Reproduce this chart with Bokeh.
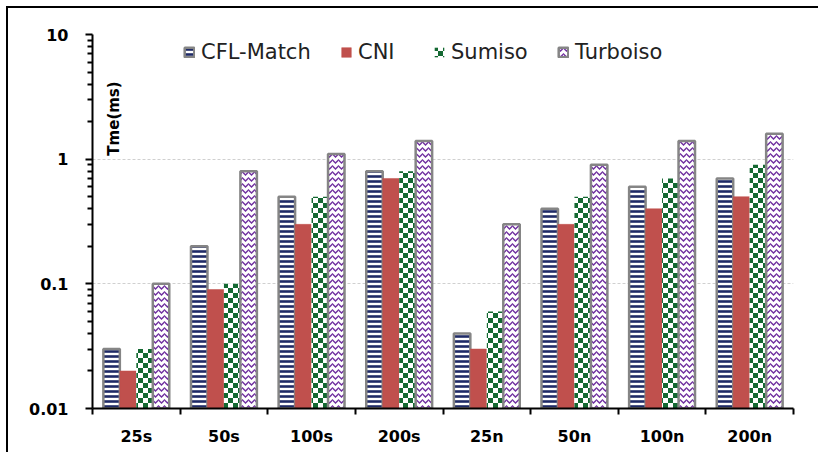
import numpy as np
import zlib, struct, base64
from bokeh.plotting import figure
from bokeh.models import (Range1d, FixedTicker, CustomJSTickFormatter, Legend,
                          LegendItem, Label, ImageURLTexture, ColumnDataSource)
from bokeh.core.properties import value
from bokeh.embed import file_html
from bokeh.resources import INLINE

# ---- data ----
categories = ["25s", "50s", "100s", "200s", "25n", "50n", "100n", "200n"]
cfl_match = [0.03, 0.2, 0.5, 0.8, 0.04, 0.4, 0.6, 0.7]
cni = [0.02, 0.09, 0.3, 0.7, 0.03, 0.3, 0.4, 0.5]
sumiso = [0.03, 0.1, 0.5, 0.8, 0.06, 0.5, 0.7, 0.9]
turboiso = [0.1, 0.8, 1.1, 1.4, 0.3, 0.9, 1.4, 1.6]
series_names = ["CFL-Match", "CNI", "Sumiso", "Turboiso"]
y_ticks = [0.01, 0.1, 1, 10]
y_label = "Tme(ms)"

y_min, y_max = y_ticks[0], y_ticks[-1]
minor_y = [m * t for t in y_ticks[:-1] for m in range(2, 10)]


# ---- checkerboard texture (small PNG built in memory) ----
def checker_png(cell, rgb):
    n = cell * 2
    rows = []
    for yy in range(n):
        row = b"\x00"
        for xx in range(n):
            on = ((xx // cell) + (yy // cell)) % 2 == 0
            row += bytes(rgb + (255,)) if on else bytes((255, 255, 255, 255))
        rows.append(row)
    raw = b"".join(rows)

    def chunk(t, d):
        c = struct.pack(">I", len(d)) + t + d
        return c + struct.pack(">I", zlib.crc32(t + d) & 0xFFFFFFFF)

    data = (b"\x89PNG\r\n\x1a\n"
            + chunk(b"IHDR", struct.pack(">IIBBBBB", n, n, 8, 6, 0, 0, 0))
            + chunk(b"IDAT", zlib.compress(raw))
            + chunk(b"IEND", b""))
    return "data:image/png;base64," + base64.b64encode(data).decode()


checker = ImageURLTexture(url=checker_png(5, (20, 105, 50)), repetition="repeat")

p = figure(width=812, height=446, output_backend="svg", toolbar_location=None,
           y_axis_type="log",
           x_range=Range1d(0, len(categories)), y_range=Range1d(y_min, y_max),
           min_border_left=84, min_border_right=27, min_border_top=26,
           min_border_bottom=46)
p.styles = {"margin-left": "6px", "margin-top": "6px",
            "border-top": "2px solid black", "border-left": "2px solid black"}
p.outline_line_color = None
p.background_fill_color = "white"
p.border_fill_color = "white"

# ---- axes ----
yt = FixedTicker(ticks=y_ticks, minor_ticks=minor_y)
p.yaxis.ticker = yt
p.ygrid.ticker = yt
p.yaxis.formatter = CustomJSTickFormatter(code="return String(Number(tick.toPrecision(2)))")
p.yaxis.axis_line_width = 2
p.yaxis.axis_line_color = "black"
p.yaxis.major_tick_line_width = 2
p.yaxis.minor_tick_line_width = 2
p.yaxis.major_tick_line_color = "black"
p.yaxis.minor_tick_line_color = "black"
p.yaxis.major_tick_in = 0
p.yaxis.minor_tick_in = 0
p.yaxis.major_tick_out = 7
p.yaxis.minor_tick_out = 5
p.yaxis.major_label_standoff = 17
p.yaxis.major_label_text_font = "DejaVu Sans"
p.yaxis.major_label_text_font_style = "bold"
p.yaxis.major_label_text_font_size = "16px"
p.yaxis.major_label_text_color = "black"

xt = FixedTicker(ticks=[i + 0.5 for i in range(len(categories))],
                 minor_ticks=list(range(len(categories) + 1)))
p.xaxis.ticker = xt
p.xaxis.formatter = CustomJSTickFormatter(args=dict(labels=categories),
                                          code="return labels[Math.floor(tick)]")
p.xaxis.axis_line_width = 2
p.xaxis.axis_line_color = "black"
p.xaxis.major_tick_line_color = None
p.xaxis.major_tick_in = 0
p.xaxis.major_tick_out = 0
p.xaxis.minor_tick_line_color = "black"
p.xaxis.minor_tick_line_width = 2
p.xaxis.minor_tick_in = 0
p.xaxis.minor_tick_out = 6
p.xaxis.major_label_standoff = 12
p.xaxis.major_label_text_font = "DejaVu Sans"
p.xaxis.major_label_text_font_style = "bold"
p.xaxis.major_label_text_font_size = "16px"
p.xaxis.major_label_text_color = "black"

p.xgrid.visible = False
p.ygrid.grid_line_color = "#D0D0D0"
p.ygrid.grid_line_dash = "3 2"
p.ygrid.grid_line_width = 1
p.ygrid.minor_grid_line_color = None

# ---- bars ----
x_centers = np.arange(len(categories)) + 0.5
bar_w = 0.188

styles = [
    dict(fill_color="white", hatch_pattern="horizontal_line", hatch_color="#1F2A66",
         hatch_scale=5, hatch_weight=2.6, line_color="#858585", line_width=2.5),
    dict(fill_color="#C0504D", line_color="#C0504D", line_width=0.5),
    dict(fill_color="white", hatch_pattern=value("checker"),
         hatch_extra={"checker": checker}, hatch_color="#146B32",
         hatch_scale=10, line_color=None),
    dict(fill_color="white", hatch_pattern="horizontal_wave", hatch_color="#7030A0",
         hatch_scale=6, hatch_weight=1.4, line_color="#858585", line_width=2.5),
]
series = [cfl_match, cni, sumiso, turboiso]
legend_x = [91, 248, 341, 465]
for k, (name, vals, st) in enumerate(zip(series_names, series, styles)):
    src = ColumnDataSource(dict(x=x_centers + (k - 1.5) * bar_w, top=vals))
    r = p.vbar(x="x", top="top", bottom=y_min, width=bar_w, source=src, **st)
    leg = Legend(items=[LegendItem(label=name, renderers=[r])],
                 location=(legend_x[k], 344), orientation="horizontal",
                 padding=0, margin=0, border_line_color=None,
                 background_fill_alpha=0, glyph_width=12, glyph_height=12,
                 label_standoff=6, label_text_font="DejaVu Sans",
                 label_text_font_size="21px", label_text_color="#222222")
    p.add_layout(leg)

p.add_layout(Label(x=21, y=290, x_units="screen", y_units="screen", text=y_label,
                   angle=np.pi / 2, text_align="center", text_baseline="middle",
                   text_font="DejaVu Sans", text_font_style="bold",
                   text_font_size="15px", text_color="black"))

open("out.html", "w").write(file_html(p, INLINE))
